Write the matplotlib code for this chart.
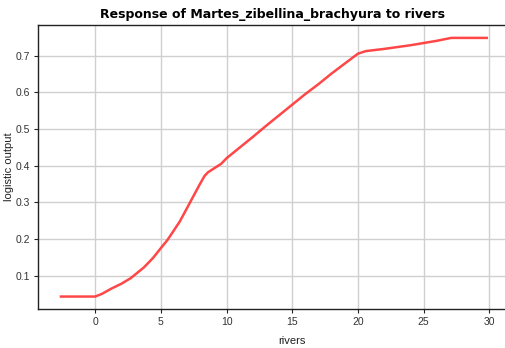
import matplotlib
matplotlib.use("Agg")
import matplotlib.pyplot as plt

plt.rcParams['font.family'] = ['Liberation Sans', 'DejaVu Sans']

title = "Response of Martes_zibellina_brachyura to rivers"
xlabel = "rivers"
ylabel = "logistic output"

x_vals = [-2.7, 0.0, 0.5, 1.2, 2.0, 2.7, 3.7, 4.4, 5.0, 5.5, 5.95, 6.45, 7.2, 7.95, 8.33,
          8.6, 8.95, 9.6, 10.0, 11.0, 12.0, 13.0, 14.0, 15.0, 16.0, 17.0, 18.0, 19.0,
          20.0, 20.6, 22.0, 24.0, 26.0, 27.1, 28.0, 29.9]
y_vals = [0.043, 0.043, 0.050, 0.064, 0.078, 0.093, 0.122, 0.148, 0.175, 0.197, 0.221, 0.248,
          0.298, 0.348, 0.372, 0.382, 0.390, 0.405, 0.420, 0.449, 0.478, 0.508, 0.537, 0.566,
          0.595, 0.622, 0.651, 0.678, 0.705, 0.712, 0.718, 0.728, 0.740, 0.748, 0.748, 0.748]

xticks = [0, 5, 10, 15, 20, 25, 30]
yticks = [0.1, 0.2, 0.3, 0.4, 0.5, 0.6, 0.7]

fig = plt.figure(figsize=(5.06, 3.48), dpi=100)
ax = fig.add_axes([0.0751, 0.112, 0.9269, 0.816])
ax.plot(x_vals, y_vals, color="#ff3333", lw=1.8, alpha=0.9, solid_capstyle="butt")
ax.set_xlim(-4.35, 31.35)
ax.set_ylim(0.009, 0.783)
ax.set_xticks(xticks)
ax.set_yticks(yticks)
ax.set_yticklabels([f"{v:.1f}" for v in yticks])
ax.grid(True, color="#d0d0d0", lw=1.0)
ax.set_axisbelow(True)
for s in ax.spines.values():
    s.set_color("#222222")
    s.set_linewidth(1.0)
ax.tick_params(labelsize=7.5, length=3, width=0.8, pad=3, colors="#222222", labelcolor="#333333")
ax.set_xlabel(xlabel, fontsize=8, color="#222222")
ax.xaxis.set_label_coords((95 + (488 - 95) / 30 * 15 - 38) / 469.0, -0.095)
ax.set_ylabel(ylabel, fontsize=8, color="#222222")
ax.yaxis.set_label_coords(-0.052, 0.5)
ax.set_title(title, fontsize=9, fontweight="bold", pad=5, family=['DejaVu Sans'])
fig.savefig("out.png", dpi=100)
